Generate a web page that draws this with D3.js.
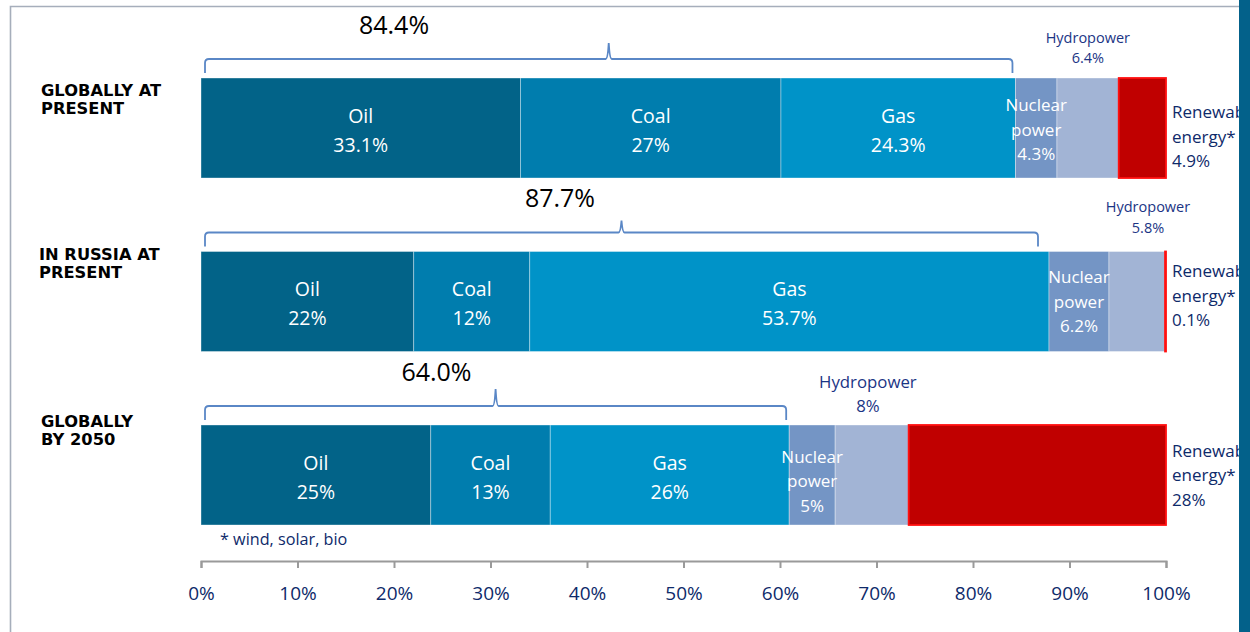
<!DOCTYPE html>
<html>
<head>
<meta charset="utf-8">
<script src="https://cdn.jsdelivr.net/npm/d3@7"></script>
<style>
  html, body { margin: 0; padding: 0; background: #ffffff; }
  svg { display: block; font-family: "Open Sans", "Noto Sans", sans-serif; }
</style>
</head>
<body>
<svg id="chart" width="1250" height="632"></svg>
<script>
// ---------------- data ----------------
const categories = ["GLOBALLY AT PRESENT", "IN RUSSIA AT PRESENT", "GLOBALLY BY 2050"];
const categoryLines = [["GLOBALLY AT", "PRESENT"], ["IN RUSSIA AT", "PRESENT"], ["GLOBALLY", "BY 2050"]];
const sources = ["Oil", "Coal", "Gas", "Nuclear power", "Hydropower", "Renewable energy*"];
const oil = [33.1, 22, 25];
const coal = [27, 12, 13];
const gas = [24.3, 53.7, 26];
const nuclear = [4.3, 6.2, 5];
const hydro = [6.4, 5.8, 8];
const renewable = [4.9, 0.1, 28];
const fossilTotals = ["84.4%", "87.7%", "64.0%"];
const tickValues = [0, 0.1, 0.2, 0.3, 0.4, 0.5, 0.6, 0.7, 0.8, 0.9, 1.0];
const footnote = "* wind, solar, bio";

// ---------------- layout / style ----------------
const W = 1250, H = 632;
const colors = ["#026388", "#007dae", "#0093c8", "#7495c5", "#a2b4d5", "#c00000"];
const navy = "#0e2a6a";
const hydroBlue = "#1b3585";
const rowLabelOffset = [18, 9, 2];         // baseline of first line relative to bar top
const rowLabelX = [41, 39, 41];
const nuclearOffset = [33, 32, 38];
const hydroShift = [0, 11, -4];
const hydroFont = [14.5, 14.5, 16.8];
const hydroOffsets = [[-35, -15], [-39, -18], [-37, -13]];
const renewOffset = [40, 26, 32];
const bracketInsetR = [3, 11, 3];
const bracketPeak = [-35, -31, -36];
const bracketLabelPos = [0.200, 0.372, 0.244];

const svg = d3.select("#chart");

// frame
svg.append("rect").attr("x", 0).attr("y", 0).attr("width", W).attr("height", H).attr("fill", "#fff");
svg.append("path")
  .attr("d", `M10.5,${H} V6.5 H1239`)
  .attr("fill", "none").attr("stroke", "#a6aebb").attr("stroke-width", 1.6);

// table for the stack
const table = categories.map((c, i) => ({
  category: c,
  "Oil": oil[i], "Coal": coal[i], "Gas": gas[i],
  "Nuclear power": nuclear[i], "Hydropower": hydro[i], "Renewable energy*": renewable[i]
}));
const series = d3.stack().keys(sources).offset(d3.stackOffsetExpand)(table);

const x = d3.scaleLinear().domain([0, 1]).range([201, 1166]);
const y = d3.scaleBand().domain(categories).range([78, 525]).paddingInner(0.4236).paddingOuter(0);
const color = d3.scaleOrdinal().domain(sources).range(colors);

// bars
const g = svg.append("g");
series.forEach((s, si) => {
  g.selectAll(null).data(s).enter().append("rect")
    .attr("x", d => x(d[0]))
    .attr("y", d => y(d.data.category))
    .attr("width", d => Math.max(0.01, x(d[1]) - x(d[0])))
    .attr("height", y.bandwidth())
    .attr("fill", color(s.key))
    .attr("stroke", si === 5 ? "#ff1010" : "rgba(255,255,255,0.45)")
    .attr("stroke-width", si === 5 ? 1.8 : 0.8);
});

// in-bar labels for oil, coal, gas
const raw = { "Oil": oil, "Coal": coal, "Gas": gas, "Nuclear power": nuclear, "Hydropower": hydro, "Renewable energy*": renewable };
const fmt = v => String(v) + "%";
[0, 1, 2].forEach(si => {
  const s = series[si];
  s.forEach((d, i) => {
    const cx = (x(d[0]) + x(d[1])) / 2;
    const top = y(d.data.category);
    const t = svg.append("text").attr("text-anchor", "middle").attr("fill", "#fff").attr("font-size", 19.5);
    t.append("tspan").attr("x", cx).attr("y", top + 45).text(s.key);
    t.append("tspan").attr("x", cx).attr("y", top + 74).text(fmt(raw[s.key][i]));
  });
});

// nuclear labels (white, three lines)
series[3].forEach((d, i) => {
  const cx = (x(d[0]) + x(d[1])) / 2;
  const top = y(d.data.category);
  const t = svg.append("text").attr("text-anchor", "middle").attr("fill", "#fff").attr("font-size", 17);
  ["Nuclear", "power", fmt(nuclear[i])].forEach((ln, k) => {
    t.append("tspan").attr("x", cx).attr("y", top + nuclearOffset[i] + k * 24.5).text(ln);
  });
});

// hydropower labels (above)
series[4].forEach((d, i) => {
  const cx = (x(d[0]) + x(d[1])) / 2 + hydroShift[i];
  const top = y(d.data.category);
  const t = svg.append("text").attr("text-anchor", "middle").attr("fill", hydroBlue).attr("font-size", hydroFont[i]);
  t.append("tspan").attr("x", cx).attr("y", top + hydroOffsets[i][0]).text("Hydropower");
  t.append("tspan").attr("x", cx).attr("y", top + hydroOffsets[i][1]).text(fmt(hydro[i]));
});

// renewable labels (right)
series[5].forEach((d, i) => {
  const lx = x(1) + 6;
  const top = y(d.data.category);
  const t = svg.append("text").attr("text-anchor", "start").attr("fill", navy).attr("font-size", 17);
  ["Renewable", "energy*", fmt(renewable[i])].forEach((ln, k) => {
    t.append("tspan").attr("x", lx).attr("y", top + renewOffset[i] + k * 24.5).text(ln);
  });
});

// category labels
categories.forEach((c, i) => {
  const top = y(c);
  const t = svg.append("text").attr("fill", "#000").attr("font-family", "'DejaVu Sans', Verdana, sans-serif")
    .attr("font-weight", "bold").attr("font-size", 16.3);
  categoryLines[i].forEach((ln, k) => {
    t.append("tspan").attr("x", rowLabelX[i]).attr("y", top + rowLabelOffset[i] + k * 18).text(ln);
  });
});

// brackets over fossil fuels
series[2].forEach((d, i) => {
  const top = y(d.data.category);
  const L = x(0) + 4, R = x(d[1]) - bracketInsetR[i];
  const y0 = top - 19, yEnd = top - 5, yP = top + bracketPeak[i], r = 4;
  const mid = (L + R) / 2;
  const p = d3.path();
  p.moveTo(L, yEnd);
  p.lineTo(L, y0 + r);
  p.quadraticCurveTo(L, y0, L + r, y0);
  p.lineTo(mid - 3, y0);
  p.quadraticCurveTo(mid - 1, y0, mid, yP);
  p.quadraticCurveTo(mid + 1, y0, mid + 3, y0);
  p.lineTo(R - r, y0);
  p.quadraticCurveTo(R, y0, R, y0 + r);
  p.lineTo(R, yEnd);
  svg.append("path").attr("d", p.toString()).attr("fill", "none")
    .attr("stroke", "#5a87c6").attr("stroke-width", 1.8);
  svg.append("text").attr("x", x(bracketLabelPos[i])).attr("y", top - 44)
    .attr("text-anchor", "middle").attr("fill", "#000").attr("font-size", 25).text(fossilTotals[i]);
});

// footnote
svg.append("text").attr("x", 220).attr("y", 545).attr("fill", navy).attr("font-size", 16.2).text(footnote);

// axis
const axis = d3.axisBottom(x).tickValues(tickValues).tickFormat(d3.format(".0%")).tickSize(7).tickSizeOuter(7);
const ag = svg.append("g").attr("transform", "translate(0,561)").call(axis);
ag.select(".domain").attr("stroke", "#9a9a9a").attr("stroke-width", 2);
ag.selectAll(".tick line").attr("stroke", "#9a9a9a").attr("stroke-width", 2);
ag.selectAll(".tick text").attr("y", 39).attr("dy", 0).attr("fill", navy)
  .attr("font-size", 19).attr("font-family", "'Open Sans', sans-serif");

// right teal strip
svg.append("rect").attr("x", 1239).attr("y", 0).attr("width", 11).attr("height", H).attr("fill", "#03618a");
</script>
</body>
</html>
